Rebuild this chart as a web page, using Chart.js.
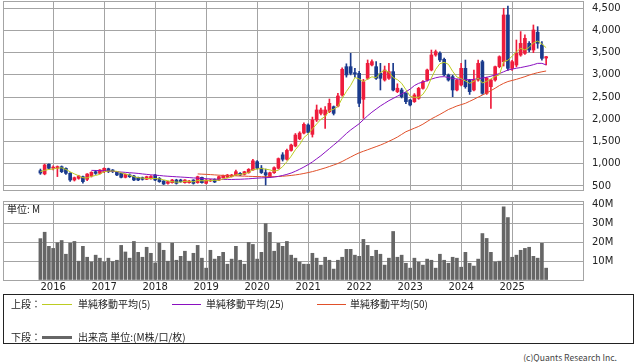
<!DOCTYPE html>
<html>
<head>
<meta charset="utf-8">
<script src="https://cdn.jsdelivr.net/npm/chart.js@4.4.1/dist/chart.umd.min.js"></script>
<style>
  body { margin: 0; background: #fff; width: 638px; height: 362px; position: relative; overflow: hidden; }
  canvas { position: absolute; left: 0; }
  #chartTop { top: 0; }
  #chartVol { top: 196px; }
  .txt { position: absolute; font-family: "Noto Sans CJK JP", "DejaVu Sans", sans-serif; font-size: 10px; color: #222; white-space: nowrap; line-height: 12px; }
  #legendBox { position: absolute; left: 3px; top: 294px; width: 629px; height: 48px; border: 1px solid #222; }
  .swatch { position: absolute; height: 1px; }
</style>
</head>
<body>
<canvas id="chartTop" width="638" height="196"></canvas>
<canvas id="chartVol" width="638" height="100"></canvas>

<div class="txt" style="left:7px; top:203px;">単位: M</div>

<div id="legendBox"></div>
<div class="txt" style="left:11px; top:298px;">上段：</div>
<div class="swatch" style="left:42px; top:304px; width:30px; background:#bccc22;"></div>
<div class="txt" style="left:78px; top:298px;">単純移動平均(5)</div>
<div class="swatch" style="left:172px; top:304px; width:29px; background:#8a10c0;"></div>
<div class="txt" style="left:206px; top:298px;">単純移動平均(25)</div>
<div class="swatch" style="left:317px; top:304px; width:29px; background:#e0502a;"></div>
<div class="txt" style="left:350px; top:298px;">単純移動平均(50)</div>
<div class="txt" style="left:11px; top:331px;">下段：</div>
<div class="swatch" style="left:42px; top:336px; width:30px; height:3px; background:#666;"></div>
<div class="txt" style="left:78px; top:331px;">出来高 単位:(M株/口/枚)</div>
<div class="txt" style="right:21px; top:351px; color:#444; font-size:8.6px;">(c)Quants Research Inc.</div>

<script>
/* =========================
   DATOS (mensual, oct 2015 - sep 2025)
========================= */

const yearTicks = [3, 15, 27, 39, 51, 63, 75, 87, 99, 111];
const yearLabels = ["2016", "2017", "2018", "2019", "2020", "2021", "2022", "2023", "2024", "2025"];
const priceTicks = [500, 1000, 1500, 2000, 2500, 3000, 3500, 4000, 4500];
const volTicks = [0, 10, 20, 30, 40];

const open = [
  843, 770, 986, 900, 900, 933, 896, 783, 633, 670, 708, 648, 723, 820, 783, 820, 888, 858, 820, 783,
  693, 746, 723, 693, 686, 648, 660, 746, 670, 611, 558, 573, 633, 633, 573, 573, 633, 573, 693, 558,
  611, 648, 633, 686, 693, 708, 746, 783, 760, 798, 860, 1046, 900, 800, 707, 797, 896, 1200, 1100, 1300,
  1400, 1560, 1690, 1872, 1661, 1984, 2134, 2097, 2172, 2284, 2300, 2547, 3185, 3185, 3050, 3035, 2450, 2923, 3223, 3185,
  3035, 2885, 2923, 3073, 2623, 2660, 2585, 2435, 2397, 2472, 2697, 2885, 3110, 3448, 3486, 3350, 2998, 2960, 2660, 2772,
  3148, 2885, 2660, 2885, 3298, 2585, 2735, 2885, 3185, 3298, 4349, 3146, 3222, 3447, 3485, 3711, 3560, 3960, 3673, 3380
];
const high = [
  880, 990, 1000, 950, 950, 950, 910, 800, 700, 740, 720, 780, 820, 850, 870, 910, 900, 870, 830, 790,
  770, 770, 740, 700, 700, 720, 730, 760, 690, 620, 610, 650, 650, 650, 645, 625, 640, 720, 700, 645,
  650, 660, 720, 745, 760, 760, 858, 800, 830, 890, 1098, 1070, 960, 880, 810, 930, 1130, 1250, 1330, 1440,
  1680, 1720, 1920, 1900, 2050, 2322, 2250, 2284, 2457, 2300, 2585, 3160, 3250, 3486, 3150, 3080, 2900, 3336, 3340, 3300,
  3260, 3200, 3260, 3260, 2800, 2700, 2600, 2450, 2580, 2720, 2870, 3130, 3560, 3560, 3520, 3380, 3020, 2990, 2900, 3260,
  3335, 2900, 3110, 3335, 3330, 2950, 2900, 3200, 3430, 4500, 4552, 3330, 3786, 3975, 3900, 3750, 4124, 4086, 3750, 3420
];
const low = [
  760, 750, 880, 860, 710, 800, 760, 600, 610, 650, 560, 620, 700, 760, 770, 800, 800, 800, 730, 680,
  680, 690, 620, 620, 630, 640, 650, 620, 580, 530, 540, 560, 540, 580, 560, 560, 540, 560, 560, 545,
  600, 575, 620, 675, 680, 700, 735, 730, 745, 785, 850, 880, 780, 520, 690, 780, 880, 1060, 1080, 1280,
  1380, 1540, 1670, 1690, 1600, 1950, 2100, 1797, 2150, 2097, 2280, 2520, 2950, 3000, 2950, 2282, 2022, 2900, 3200, 2900,
  2660, 2860, 2900, 2640, 2600, 2480, 2350, 2300, 2380, 2450, 2680, 2860, 3090, 3420, 3300, 2980, 2860, 2510, 2640, 2750,
  2700, 2560, 2640, 2860, 2560, 2560, 2244, 2860, 3160, 3200, 3100, 3100, 3180, 3420, 3460, 3520, 3500, 3600, 3330, 3222
];
const close = [
  790, 971, 896, 920, 935, 820, 783, 633, 686, 723, 596, 768, 806, 783, 858, 896, 820, 820, 746, 693,
  760, 708, 633, 633, 648, 708, 712, 633, 596, 543, 596, 633, 558, 596, 633, 611, 558, 708, 573, 633,
  633, 588, 708, 731, 746, 746, 820, 746, 820, 873, 1065, 900, 800, 745, 797, 911, 1115, 1100, 1300, 1420,
  1646, 1690, 1887, 1706, 1984, 2210, 2210, 2210, 2360, 2134, 2525, 3125, 2998, 3035, 3020, 2360, 2848, 3261, 3298, 2923,
  2923, 3110, 3073, 2660, 2700, 2510, 2397, 2322, 2547, 2697, 2847, 3110, 3448, 3523, 3336, 3000, 2885, 2660, 2885, 3148,
  2735, 2622, 2885, 3260, 2585, 2923, 2885, 3185, 3410, 4349, 3148, 3297, 3485, 3710, 3823, 3560, 4011, 3711, 3373, 3410
];

// 単純移動平均
const ma5 = [
  820, 850, 870, 880, 900, 908, 871, 818, 771, 729, 684, 681, 716, 735, 762, 822, 833, 835, 828, 795,
  768, 745, 708, 685, 676, 666, 666, 666, 659, 638, 615, 594, 585, 585, 603, 606, 591, 621, 617, 617,
  621, 627, 627, 659, 681, 704, 750, 758, 776, 801, 865, 881, 892, 877, 861, 831, 854, 934, 1045, 1169,
  1316, 1431, 1589, 1670, 1783, 1895, 1999, 2064, 2195, 2225, 2288, 2471, 2628, 2763, 2941, 2908, 2852, 2905, 2957, 2938,
  3051, 3103, 3065, 2938, 2893, 2811, 2668, 2518, 2495, 2495, 2562, 2705, 2930, 3125, 3253, 3283, 3238, 3081, 2953, 2916,
  2863, 2810, 2855, 2930, 2817, 2855, 2908, 2968, 3000, 3300, 3330, 3420, 3520, 3598, 3560, 3620, 3722, 3763, 3696, 3613
];
const ma25 = [
  null, null, null, null, null, null, null, null, null, null, null, null,
  850, 848, 845, 840, 835, 828, 820, 812, 805, 797, 790, 782, 770, 760, 750, 742, 735, 725,
  718, 712, 706, 700, 694, 688, 680, 675, 668, 662, 658, 652, 650, 648, 646, 645, 648, 650, 655, 660,
  668, 675, 680, 685, 690, 700, 715, 735, 760, 790, 830, 875, 925, 980, 1040, 1110, 1180, 1260, 1340, 1420,
  1500, 1590, 1680, 1760, 1830, 1900, 1990, 2080, 2160, 2230, 2300, 2360, 2420, 2470, 2520, 2570, 2620, 2680, 2760, 2810,
  2840, 2870, 2905, 2935, 2955, 2960, 2940, 2920, 2910, 2900, 2895, 2890, 2900, 2915, 2930, 2945, 2970, 3000, 3030, 3070,
  3110, 3130, 3150, 3165, 3185, 3205, 3230, 3260, 3260, 3225
];
const ma50 = [
  null, null, null, null, null, null, null, null, null, null, null, null, null, null, null, null, null, null, null, null,
  null, null, null, null, null, null, null, null, null, null, null, null, null, null, null, null, null,
  770, 765, 760, 755, 748, 742, 737, 733, 730, 727, 723, 720, 716, 713, 710, 708, 706, 706, 708, 712, 718, 726, 736,
  748, 762, 780, 800, 822, 848, 876, 905, 937, 970, 1005, 1050, 1100, 1150, 1200, 1245, 1280, 1315, 1350, 1385,
  1420, 1460, 1505, 1550, 1600, 1660, 1720, 1760, 1800, 1840, 1890, 1950, 2010, 2060, 2110, 2165, 2220, 2260, 2300, 2330,
  2360, 2405, 2450, 2500, 2545, 2595, 2645, 2700, 2760, 2810, 2850, 2875, 2900, 2930, 2960, 2995, 3025, 3050, 3070, 3088
];

// 出来高 (M)
const volume = [
  22, 25.4, 17.9, 16.8, 19.8, 21, 13.7, 19.6, 20.5, 10, 17.9, 12.1, 9.6, 13.2, 11.6, 9.6, 11.6, 9.8, 10.5, 18.4,
  14.9, 11.6, 20.5, 14.7, 12.1, 17.4, 14.2, 9.1, 19.6, 15.8, 10, 19.6, 10.5, 12.6, 15.3, 10, 14.2, 18.4, 11.6, 6.3,
  15.8, 11.1, 12.6, 14.7, 8.4, 11.1, 17.9, 10.5, 8.4, 20, 18.9, 11.1, 14.7, 30, 25.3, 15.3, 19.5, 17.9, 20.5, 13.2,
  11.6, 9.6, 8.4, 8.4, 14.2, 11.6, 7.9, 12.1, 10.5, 5.8, 10.5, 12.1, 16.3, 16.3, 13.2, 12.6, 21.6, 18.4, 12.6, 15.8,
  13.7, 7.9, 11.6, 25.8, 12.1, 13.2, 8.9, 6.3, 11.6, 9.5, 7.9, 11.1, 10.5, 6.3, 13.7, 10.5, 8.9, 12.1, 11.6, 6.8,
  14.7, 8.9, 7.4, 11.1, 24.7, 22.1, 14.7, 9.6, 10, 38.9, 33.2, 12.1, 13.2, 15.8, 16.8, 17.4, 12.6, 11.6, 19.5, 6.3
];

/* =========================
   ESTILO
========================= */

const UP = "#ee1c3c";
const DOWN = "#1a3a8c";
const GRID = "#a4a4a4";
const X_MIN = -8.8;
const X_MAX = 127.67;

Chart.defaults.font.family = "'DejaVu Sans', sans-serif";
Chart.defaults.font.size = 10;
Chart.defaults.color = "#333";

const candleColors = open.map((o, i) => close[i] >= o ? UP : DOWN);

// marco del área del gráfico
const plotFrame = {
  id: "plotFrame",
  afterDraw(chart) {
    const { ctx, chartArea: a } = chart;
    ctx.save();
    ctx.strokeStyle = GRID;
    ctx.lineWidth = 1;
    ctx.strokeRect(Math.round(a.left) + 0.5, Math.round(a.top) + 0.5,
      Math.round(a.right - a.left), Math.round(a.bottom - a.top));
    ctx.restore();
  }
};

function noPad(s) {
  s.paddingTop = 0; s.paddingBottom = 0; s.paddingLeft = 0; s.paddingRight = 0;
}

function xScale(showLabels) {
  return {
    type: "linear",
    offset: false,
    min: X_MIN,
    max: X_MAX,
    afterBuildTicks: s => { s.ticks = yearTicks.map(v => ({ value: v })); },
    afterFit: noPad,
    ticks: {
      display: showLabels,
      padding: 1,
      autoSkip: false,
      maxRotation: 0,
      color: "#222",
      callback: v => yearLabels[yearTicks.indexOf(v)]
    },
    grid: { color: GRID, drawTicks: false, offset: false },
    border: { display: false }
  };
}

function lineSet(data, color) {
  return {
    type: "line",
    data: data.map((v, i) => ({ x: i, y: v })),
    borderColor: color,
    borderWidth: 1,
    pointRadius: 0,
    tension: 0,
    spanGaps: false,
    order: 0
  };
}

/* =========================
   GRÁFICO SUPERIOR (velas + medias)
========================= */

new Chart(document.getElementById("chartTop"), {
  type: "bar",
  data: {
    datasets: [
      lineSet(ma5, "#bccc22"),
      lineSet(ma25, "#8a10c0"),
      lineSet(ma50, "#e0502a"),
      {
        label: "wick",
        data: low.map((l, i) => ({ x: i, y: [l, high[i]] })),
        backgroundColor: candleColors,
        barThickness: 1,
        grouped: false,
        order: 2
      },
      {
        label: "body",
        data: open.map((o, i) => ({ x: i, y: [o, close[i]] })),
        backgroundColor: candleColors,
        barThickness: 3,
        minBarLength: 1,
        grouped: false,
        order: 1
      }
    ]
  },
  options: {
    responsive: false,
    animation: false,
    layout: { padding: { left: 3, top: 1, right: 0, bottom: 6 } },
    plugins: { legend: { display: false }, tooltip: { enabled: false } },
    scales: {
      x: xScale(false),
      y: {
        position: "right",
        min: 408,
        max: 4664,
        afterBuildTicks: s => { s.ticks = priceTicks.map(v => ({ value: v })); },
        afterFit: s => { noPad(s); s.width = 55; },
        ticks: { padding: 9, color: "#222", callback: v => v.toLocaleString("en-US") },
        grid: { color: GRID, drawTicks: false },
        border: { display: false }
      }
    }
  },
  plugins: [plotFrame]
});

/* =========================
   GRÁFICO INFERIOR (出来高)
========================= */

new Chart(document.getElementById("chartVol"), {
  type: "bar",
  data: {
    datasets: [{
      data: volume.map((v, i) => ({ x: i, y: v })),
      backgroundColor: "#666666",
      barThickness: 3
    }]
  },
  options: {
    responsive: false,
    animation: false,
    layout: { padding: { left: 3, top: 5, right: 0, bottom: 2 } },
    plugins: { legend: { display: false }, tooltip: { enabled: false } },
    scales: {
      x: xScale(true),
      y: {
        position: "right",
        min: 0,
        max: 42,
        afterBuildTicks: s => { s.ticks = volTicks.map(v => ({ value: v })); },
        afterFit: s => { noPad(s); s.width = 55; },
        ticks: { padding: 9, color: "#222", callback: v => v === 0 ? "" : v + "M" },
        grid: { color: GRID, drawTicks: false },
        border: { display: false }
      }
    }
  },
  plugins: [plotFrame]
});
</script>
</body>
</html>
